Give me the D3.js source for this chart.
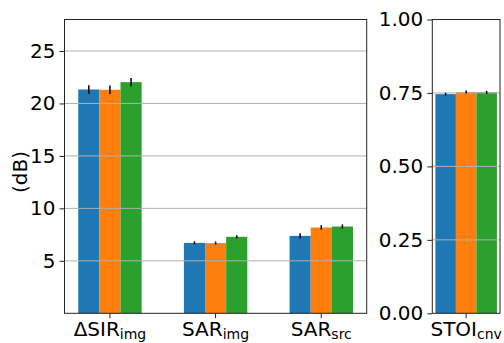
<!DOCTYPE html>
<html lang="en">
<head>
<meta charset="UTF-8">
<title>Separation metrics</title>
<script src="https://d3js.org/d3.v7.min.js"></script>
<style>
  body { margin: 0; background: #ffffff; }
  text { font-family: "DejaVu Sans", sans-serif; fill: #000; }
</style>
</head>
<body>
<div id="chart"></div>
<script>

// data
var metrics = ["ΔSIR", "SAR", "SAR"];
var metricSubs = ["img", "img", "src"];
var seriesA = [21.33, 6.71, 7.38];
var seriesB = [21.30, 6.69, 8.18];
var seriesC = [22.03, 7.29, 8.27];
var errA = [0.40, 0.15, 0.25];
var errB = [0.40, 0.15, 0.22];
var errC = [0.40, 0.15, 0.20];
var dbTicks = [5, 10, 15, 20, 25];

var stoiLabel = "STOI";
var stoiSub = "cnv";
var stoiValues = [0.746, 0.753, 0.752];
var stoiErr = [0.005, 0.005, 0.005];
var stoiTicks = [0, 0.25, 0.5, 0.75, 1.0];

var colors = ["#1f77b4", "#ff7f0e", "#2ca02c"];
var barW = 0.2;

var W = 504, H = 343;
var svg = d3.select("#chart").append("svg")
    .attr("width", W).attr("height", H);

// left panel
var left = {x0: 64.5, x1: 366.7, y0: 19.5, y1: 313.3};
var x = d3.scaleLinear().domain([-0.43, 2.43]).range([left.x0, left.x1]);
var y = d3.scaleLinear().domain([0, 28]).range([left.y1, left.y0]);

// right panel
var right = {x0: 432.3, x1: 500, y0: 19.5, y1: 313.3};
var x2 = d3.scaleLinear().domain([-0.33, 0.33]).range([right.x0, right.x1]);
var y2 = d3.scaleLinear().domain([0, 1]).range([right.y1, right.y0]);

var series = [seriesA, seriesB, seriesC];
var errs = [errA, errB, errC];

function drawBars(g, xs, ys, rows) {
  g.selectAll("rect.bar").data(rows).enter().append("rect")
    .attr("class", "bar")
    .attr("x", function(d) { return xs(d.pos - barW / 2); })
    .attr("width", function(d) { return xs(d.pos + barW / 2) - xs(d.pos - barW / 2); })
    .attr("y", function(d) { return ys(d.val); })
    .attr("height", function(d) { return ys(0) - ys(d.val); })
    .attr("fill", function(d) { return colors[d.c]; });
}

function drawGrid(g, xs, ys, ticks) {
  g.selectAll("line.grid").data(ticks).enter().append("line")
    .attr("x1", xs.range()[0]).attr("x2", xs.range()[1])
    .attr("y1", function(d) { return ys(d); })
    .attr("y2", function(d) { return ys(d); })
    .attr("stroke", "#b0b0b0").attr("stroke-width", 1);
}

function drawErr(g, xs, ys, rows) {
  g.selectAll("line.err").data(rows).enter().append("line")
    .attr("x1", function(d) { return xs(d.pos); })
    .attr("x2", function(d) { return xs(d.pos); })
    .attr("y1", function(d) { return ys(d.val - d.err); })
    .attr("y2", function(d) { return ys(d.val + d.err); })
    .attr("stroke", "#000").attr("stroke-width", 1.5);
}

// left rows
var rows = [];
metrics.forEach(function(m, i) {
  series.forEach(function(s, j) {
    rows.push({pos: i + (j - 1) * barW, val: s[i], err: errs[j][i], c: j});
  });
});
var gL = svg.append("g");
drawBars(gL, x, y, rows);
drawGrid(gL, x, y, dbTicks);
drawErr(gL, x, y, rows);

var stoiRows = stoiValues.map(function(v, j) {
  return {pos: (j - 1) * barW, val: v, err: stoiErr[j], c: j};
});
var gR = svg.append("g");
drawBars(gR, x2, y2, stoiRows);
drawGrid(gR, x2, y2, stoiTicks.filter(function(t) { return t > 0 && t < 1; }));
drawErr(gR, x2, y2, stoiRows);

// spines
[left, right].forEach(function(p) {
  svg.append("rect")
    .attr("x", p.x0).attr("y", p.y0)
    .attr("width", p.x1 - p.x0).attr("height", p.y1 - p.y0)
    .attr("fill", "none").attr("stroke", "#222").attr("stroke-width", 1);
});

// y axes
var yAxis = svg.append("g").attr("transform", "translate(" + left.x0 + ",0)")
  .call(d3.axisLeft(y).tickValues(dbTicks).tickSize(5).tickPadding(4));
var y2Axis = svg.append("g").attr("transform", "translate(" + right.x0 + ",0)")
  .call(d3.axisLeft(y2).tickValues(stoiTicks).tickFormat(d3.format(".2f")).tickSize(5).tickPadding(4));
[yAxis, y2Axis].forEach(function(a) {
  a.select(".domain").remove();
  a.selectAll(".tick line").attr("stroke", "#222");
  a.selectAll(".tick text").style("font-size", "20px").style("font-family", "DejaVu Sans");
});

// x ticks and labels
function xLabel(px, main, sub) {
  svg.append("line")
    .attr("x1", px).attr("x2", px)
    .attr("y1", left.y1).attr("y2", left.y1 + 5)
    .attr("stroke", "#222");
  var t = svg.append("text")
    .attr("x", px).attr("y", 336)
    .attr("text-anchor", "middle")
    .style("font-size", "20px");
  t.append("tspan").text(main);
  t.append("tspan").attr("dy", 3).style("font-size", "14px").text(sub);
}
metrics.forEach(function(m, i) { xLabel(x(i), m, metricSubs[i]); });
xLabel(x2(0), stoiLabel, stoiSub);

// y label
svg.append("text")
  .attr("transform", "translate(27,172) rotate(-90)")
  .attr("text-anchor", "middle")
  .style("font-size", "20px")
  .text("(dB)");

</script>
</body>
</html>
